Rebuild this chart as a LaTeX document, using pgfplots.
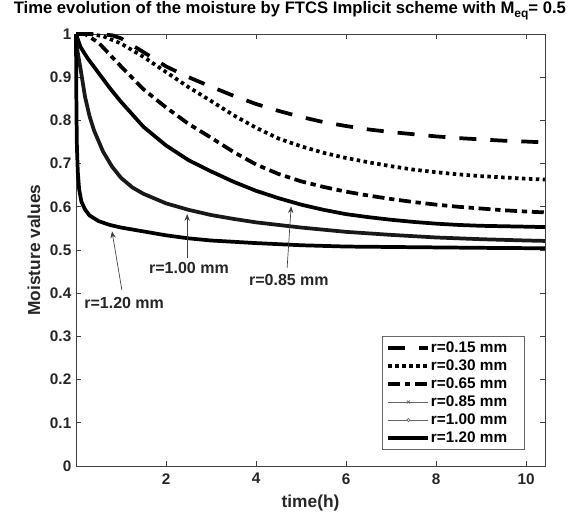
\documentclass[border=0pt]{standalone}
\usepackage{pgfplots}
\pgfplotsset{compat=1.18}
\usepackage{fontspec}
\setmainfont{Liberation Sans}
\usetikzlibrary{arrows.meta}
\begin{document}
\begin{tikzpicture}
\useasboundingbox (-57pt,-36.75pt) rectangle (378.75pt,349.5pt);
\begin{axis}[
  at={(0,0)}, anchor=south west,
  scale only axis, width=351.75pt, height=324pt,
  xmin=0, xmax=10.42, ymin=0, ymax=1,
  clip=false,
  xtick={2,4,6,8,10},
  ytick={0,0.1,0.2,0.3,0.4,0.5,0.6,0.7,0.8,0.9,1},
  /pgf/number format/.cd, fixed, precision=1, assume math mode=true,
  /pgfplots/.cd,
  tick align=inside,
  major tick length=3.5pt,
  axis line style={black!75, line width=0.5pt},
  every tick/.style={black!75, line width=0.5pt},
  tick label style={font=\fontsize{11.5}{13}\selectfont\bfseries, black!85},
  xticklabel style={yshift=-2pt},
  xlabel={time(h)},
  xlabel style={at={(axis description cs:0.5,-0.0856)}, anchor=center, font=\fontsize{13}{15}\selectfont\bfseries, black!85},
  ylabel={Moisture values},
  ylabel style={at={(axis description cs:-0.0896,0.5)}, anchor=center, rotate=0, font=\fontsize{13}{15}\selectfont\bfseries, black!85},
  title={Time evolution of the moisture by FTCS Implicit scheme with M\raisebox{-0.45ex}{\fontsize{9}{10}\selectfont eq}= 0.5},
  title style={at={(axis description cs:0.456,1.030)}, anchor=base, font=\fontsize{12.5}{14}\selectfont\bfseries, inner sep=0pt},
  legend style={at={(axis description cs:0.957,0.037)}, anchor=south east,
    draw=black!60, line width=0.4pt, fill=white,
    font=\fontsize{11.5}{12}\selectfont\bfseries,
    row sep=0pt, inner xsep=3.5pt, inner ysep=2pt,
    nodes={inner xsep=0.5pt},
    cells={anchor=west}},
  legend cell align=left,
  legend image code/.code={\draw[#1] (0pt,0pt) -- (30pt,0pt);},
]
% r = 0.15 mm
\addplot[black, line width=2.8pt, dash pattern=on 12.75pt off 10.5pt, line cap=butt] coordinates {
(0,1) (0.5,1.0) (0.8,0.997) (1.0,0.99) (1.5,0.958) (2.0,0.925) (2.5,0.9) (3.0,0.878)
(3.5,0.857) (4.0,0.838) (4.5,0.822) (5.0,0.808) (5.5,0.796) (6.0,0.787) (6.5,0.779)
(7.0,0.773) (7.5,0.768) (8.0,0.763) (8.5,0.759) (9.0,0.756) (9.5,0.753) (10.0,0.751) (10.42,0.749)};
\addlegendentry{r=0.15 mm\rule{9pt}{0pt}}
% r = 0.30 mm
\addplot[black, line width=2.8pt, dash pattern=on 2.6pt off 2.6pt, line cap=butt] coordinates {
(0,1) (0.3,1.0) (0.6,0.995) (1.0,0.978) (1.5,0.947) (2.0,0.912) (2.5,0.877) (3.0,0.845)
(3.5,0.812) (4.0,0.783) (4.5,0.758) (5.0,0.740) (5.5,0.725) (6.0,0.713) (6.5,0.703)
(7.0,0.694) (7.5,0.686) (8.0,0.680) (8.5,0.675) (9.0,0.671) (9.5,0.668) (10.0,0.665) (10.42,0.663)};
\addlegendentry{r=0.30 mm}
% r = 0.65 mm
\addplot[black, line width=2.8pt, dash pattern=on 9pt off 3.5pt on 4pt off 3.5pt, line cap=butt] coordinates {
(0,1) (0.2,1.0) (0.5,0.98) (1.0,0.925) (1.5,0.872) (2.0,0.83) (2.5,0.792) (3.0,0.76)
(3.5,0.727) (4.0,0.698) (4.5,0.676) (5.0,0.659) (5.5,0.646) (6.0,0.635) (6.5,0.626)
(7.0,0.618) (7.5,0.611) (8.0,0.605) (8.5,0.6) (9.0,0.596) (9.5,0.592) (10.0,0.589) (10.42,0.587)};
\addlegendentry{r=0.65 mm}
% r = 0.85 mm
\addplot[black, line width=2.8pt,
  legend image code/.code={\draw[black!60, line width=0.5pt] (0pt,0pt) -- (30pt,0pt);
    \draw[black!60, line width=0.5pt] (13.9pt,-1.1pt) -- (16.1pt,1.1pt) (13.9pt,1.1pt) -- (16.1pt,-1.1pt);}
  ] coordinates {
(0,1) (0.05,0.985) (0.1,0.97) (0.25,0.945) (0.5,0.91) (0.75,0.875) (1.0,0.843) (1.5,0.785)
(2.0,0.742) (2.5,0.708) (3.0,0.682) (3.5,0.658) (4.0,0.637) (4.5,0.62) (5.0,0.605)
(5.5,0.593) (6.0,0.583) (6.5,0.576) (7.0,0.57) (7.5,0.565) (8.0,0.561) (8.5,0.558)
(9.0,0.556) (9.5,0.555) (10.0,0.554) (10.42,0.553)};
\addlegendentry{r=0.85 mm}
% r = 1.00 mm
\addplot[black!90, line width=2.8pt,
  legend image code/.code={\draw[black!60, line width=0.5pt] (0pt,0pt) -- (30pt,0pt);
    \draw[black!60, line width=0.5pt, fill=white] (15pt,0pt) circle (1.2pt);}
  ] coordinates {
(0,1) (0.02,0.97) (0.05,0.95) (0.1,0.92) (0.2,0.855) (0.3,0.81) (0.4,0.777) (0.6,0.728)
(0.8,0.693) (1.0,0.667) (1.25,0.645) (1.5,0.63) (2.0,0.608) (2.5,0.593) (3.0,0.581)
(3.5,0.572) (4.0,0.564) (5.0,0.552) (6.0,0.542) (7.0,0.535) (8.0,0.529) (9.0,0.525)
(10.0,0.522) (10.42,0.521)};
\addlegendentry{r=1.00 mm}
% r = 1.20 mm
\addplot[black, line width=2.8pt] coordinates {
(0,1) (0.005,0.9) (0.01,0.82) (0.02,0.74) (0.04,0.68) (0.07,0.64) (0.12,0.612) (0.2,0.594)
(0.3,0.58) (0.5,0.567) (0.75,0.558) (1.0,0.552) (1.5,0.543) (2.0,0.534) (2.5,0.527)
(3.0,0.522) (4.0,0.516) (5.0,0.511) (6.0,0.508) (7.0,0.507) (8.0,0.506) (9.0,0.505) (10.42,0.504)};
\addlegendentry{r=1.20 mm}
% annotations
\draw[black!75, line width=0.5pt, -{Stealth[length=5pt,width=4pt]}] (axis cs:1.02,0.407) -- (axis cs:0.80,0.543);
\node[font=\fontsize{12}{13}\selectfont\bfseries, black!85] at (axis cs:1.07,0.377) {r=1.20 mm};
\draw[black!75, line width=0.5pt, -{Stealth[length=5pt,width=4pt]}] (axis cs:2.47,0.481) -- (axis cs:2.47,0.583);
\node[font=\fontsize{12}{13}\selectfont\bfseries, black!85] at (axis cs:2.51,0.458) {r=1.00 mm};
\draw[black!75, line width=0.5pt, -{Stealth[length=5pt,width=4pt]}] (axis cs:4.69,0.458) -- (axis cs:4.78,0.601);
\node[font=\fontsize{12}{13}\selectfont\bfseries, black!85] at (axis cs:4.73,0.431) {r=0.85 mm};
\end{axis}
\end{tikzpicture}
\end{document}
